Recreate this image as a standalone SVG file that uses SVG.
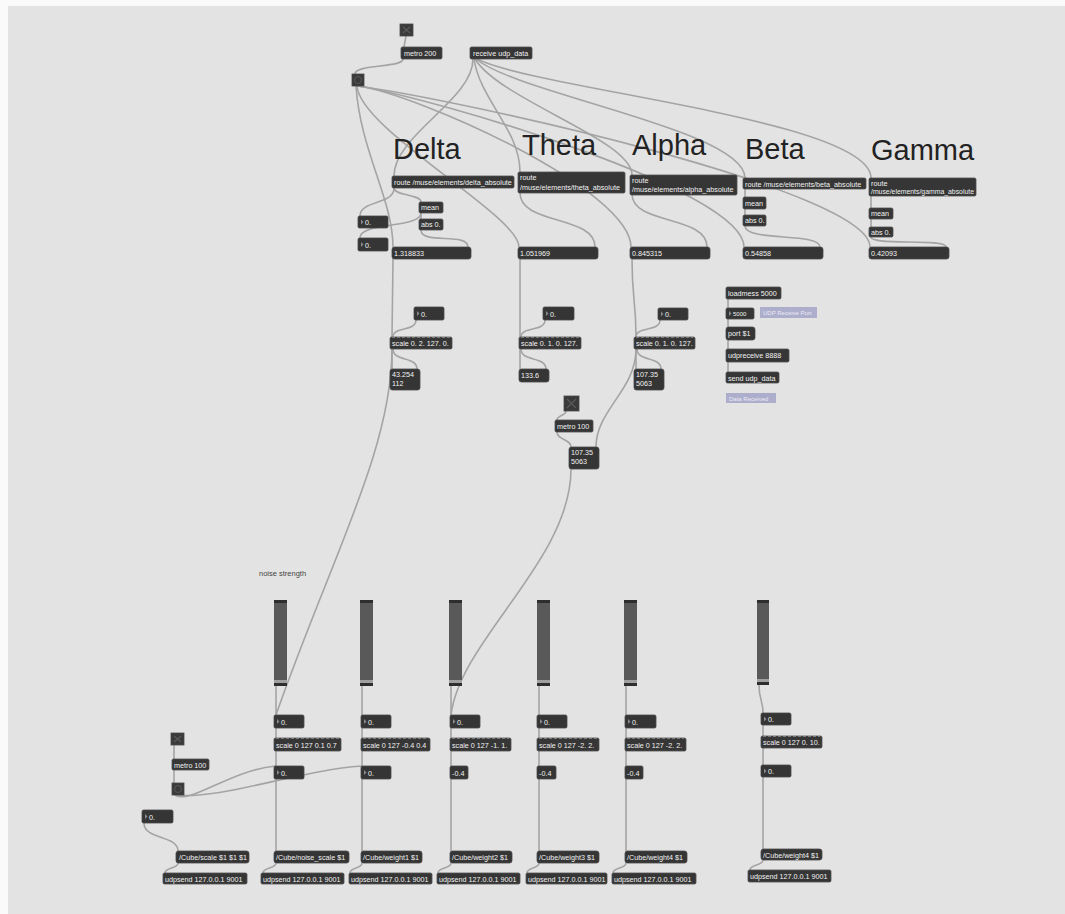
<svg xmlns="http://www.w3.org/2000/svg" width="1065" height="914" viewBox="0 0 1065 914">
<style>
.bg{fill:#e3e3e3}
.c{fill:none;stroke:#a4a4a4;stroke-width:1.6;stroke-linecap:round}
.o{fill:#363636;stroke:#505050;stroke-width:0.8}
.m{fill:#353535;stroke:#4a4a4a;stroke-width:0.8}
.n{fill:#353535;stroke:#4a4a4a;stroke-width:0.8}
.t{font-family:"Liberation Sans",Arial,sans-serif;font-size:7.2px;fill:#f2f2f2}
.big{font-family:"Liberation Sans",Arial,sans-serif;font-size:29px;fill:#222}
.cm{font-family:"Liberation Sans",Arial,sans-serif;font-size:7.5px;fill:#444}
.lav{fill:#adadcc}
.lt{font-family:"Liberation Sans",Arial,sans-serif;font-size:6px;fill:#ececf6}
.tri{fill:#8a8a8a}
.tg{fill:#3a3a3a;stroke:#4a4a4a;stroke-width:0.8}
.x{stroke:#5a5a5a;stroke-width:1.2}
.sl{fill:#595959}
.sd{fill:#2e2e2e}
.sh{fill:#a0a0a0}
.dash{stroke:#7a7a7a;stroke-width:1;stroke-dasharray:3 2}
</style>
<defs>
<g id="tri"><polygon class="tri" points="0,-2.5 2.5,0 0,2.5"/></g>
</defs>
<rect x="0" y="0" width="1065" height="914" fill="#fafafa"/>
<rect class="bg" x="8" y="6" width="1057" height="908"/>

<g id="connectors">
<path class="c" d="M406 36 L404 47"/>
<path class="c" d="M403 59 C403 68 355 64 355 74"/>
<path class="c" d="M473 59 C473 100 394 135 394 176"/>
<path class="c" d="M474 59 C480 100 520 130 520 172"/>
<path class="c" d="M475 59 C500 100 632 140 632 175"/>
<path class="c" d="M476 59 C520 95 745 130 745 178"/>
<path class="c" d="M477 59 C540 90 871 120 871 178"/>
<path class="c" d="M356 86 C360 150 393 200 393 247"/>
<path class="c" d="M357 86 C360 130 519 215 519 247"/>
<path class="c" d="M358 86 C420 95 631 190 631 247"/>
<path class="c" d="M358 86 C440 100 744 190 744 247"/>
<path class="c" d="M358 86 C460 100 870 190 870 247"/>
<path class="c" d="M394 188 C394 196 421 194 421 202"/>
<path class="c" d="M394 188 C394 205 360 200 360 216"/>
<path class="c" d="M421 213 L421 219"/>
<path class="c" d="M421 213 C421 228 360 222 360 238"/>
<path class="c" d="M421 230 C421 245 468 232 468 247"/>
<path class="c" d="M393 259 L392 337"/>
<path class="c" d="M416 320 C416 332 393 326 393 337"/>
<path class="c" d="M392 349 L392 369"/>
<path class="c" d="M393 349 C393 362 417 356 417 369"/>
<path class="c" d="M392 349 C392 450 330 560 276 715"/>
<path class="c" d="M520 193 C520 225 595 215 595 247"/>
<path class="c" d="M520 259 L520 337"/>
<path class="c" d="M545 320 C545 332 521 326 521 337"/>
<path class="c" d="M520 349 L520 369"/>
<path class="c" d="M521 349 C521 362 546 356 546 369"/>
<path class="c" d="M632 194 C632 225 707 215 707 247"/>
<path class="c" d="M632 259 C632 300 636 300 636 337"/>
<path class="c" d="M660 320 C660 332 636 326 636 337"/>
<path class="c" d="M636 349 L636 369"/>
<path class="c" d="M637 349 C637 362 661 356 661 369"/>
<path class="c" d="M636 349 C636 390 596 410 596 447"/>
<path class="c" d="M566 411 C566 416 557 415 557 420"/>
<path class="c" d="M557 432 C557 440 571 439 571 447"/>
<path class="c" d="M571 469 C571 560 460 640 451 715"/>
<path class="c" d="M745 189 L745 197"/>
<path class="c" d="M745 209 L745 215"/>
<path class="c" d="M745 226 C745 242 820 232 820 247"/>
<path class="c" d="M871 196 L871 208"/>
<path class="c" d="M871 219 L871 227"/>
<path class="c" d="M871 237 C871 246 946 238 946 247"/>
<path class="c" d="M728 299 L728 308"/>
<path class="c" d="M728 319 L728 327"/>
<path class="c" d="M728 340 L728 349"/>
<path class="c" d="M728 362 L728 372"/>
<path class="c" d="M174 745 L174 759"/>
<path class="c" d="M174 770 L174 783"/>
<path class="c" d="M175 795 C190 805 230 770 276 766"/>
<path class="c" d="M176 795 C220 800 300 770 362 766"/>
<path class="c" d="M144 823 C144 840 178 835 178 851"/>
<path class="c" d="M178 863 C178 869 165 867 165 873"/>
<path class="c" d="M276 686 L276 715"/>
<path class="c" d="M276 728 L276 738"/>
<path class="c" d="M276 751 L276 766"/>
<path class="c" d="M276 779 L276 851"/>
<path class="c" d="M276 863 C276 869 263 867 263 873"/>
<path class="c" d="M362 686 L362 715"/>
<path class="c" d="M362 728 L362 738"/>
<path class="c" d="M362 751 L362 766"/>
<path class="c" d="M362 779 L362 851"/>
<path class="c" d="M362 863 C362 869 350 867 350 873"/>
<path class="c" d="M451 686 L451 715"/>
<path class="c" d="M451 728 L451 738"/>
<path class="c" d="M451 751 L451 766"/>
<path class="c" d="M451 779 L451 851"/>
<path class="c" d="M451 863 C451 869 438 867 438 873"/>
<path class="c" d="M539 686 L539 715"/>
<path class="c" d="M539 728 L539 738"/>
<path class="c" d="M539 751 L539 766"/>
<path class="c" d="M539 779 L539 851"/>
<path class="c" d="M539 863 C539 869 527 867 527 873"/>
<path class="c" d="M626 686 L626 715"/>
<path class="c" d="M626 728 L626 738"/>
<path class="c" d="M626 751 L626 766"/>
<path class="c" d="M626 779 L626 851"/>
<path class="c" d="M626 863 C626 869 613 867 613 873"/>
<path class="c" d="M759 685 C759 700 763 700 763 713"/>
<path class="c" d="M763 725 L763 736"/>
<path class="c" d="M763 748 L763 765"/>
<path class="c" d="M763 777 L763 849"/>
<path class="c" d="M763 860 C763 866 750 864 750 870"/>
</g>

<g id="labels">
<text class="big" x="393" y="159">Delta</text>
<text class="big" x="522" y="155">Theta</text>
<text class="big" x="632" y="155">Alpha</text>
<text class="big" x="745" y="159">Beta</text>
<text class="big" x="871" y="160">Gamma</text>
<text class="cm" x="259" y="576">noise strength</text>
</g>

<g id="toggle-top"><rect class="tg" x="400" y="24" width="13" height="12"/><path class="x" d="M403 27 L410 33 M410 27 L403 33"/></g>
<g id="metro200"><rect class="o" x="401" y="47" width="41" height="12" rx="1.5"/><text class="t" x="404" y="56">metro 200</text></g>
<g id="receive"><rect class="o" x="470" y="47" width="62" height="12" rx="1.5"/><text class="t" x="473" y="56">receive udp_data</text></g>
<g id="bang-top"><rect class="tg" x="352" y="74" width="12" height="12"/><circle cx="358" cy="80" r="3.5" fill="none" stroke="#5a5a5a" stroke-width="1"/></g>

<g id="route-delta"><rect class="o" x="392" y="176" width="122" height="12" rx="1.5"/><text class="t" x="394" y="185">route /muse/elements/delta_absolute</text></g>
<g id="route-theta"><rect class="o" x="518" y="172" width="107" height="21" rx="1.5"/><text class="t" x="520" y="180">route</text><text class="t" x="520" y="190">/muse/elements/theta_absolute</text></g>
<g id="route-alpha"><rect class="o" x="630" y="175" width="107" height="20" rx="1.5"/><text class="t" x="632" y="183">route</text><text class="t" x="632" y="192">/muse/elements/alpha_absolute</text></g>
<g id="route-beta"><rect class="o" x="743" y="178" width="123" height="11" rx="1.5"/><text class="t" x="745" y="186.5">route /muse/elements/beta_absolute</text></g>
<g id="route-gamma"><rect class="o" x="869" y="178" width="107" height="18" rx="1.5"/><text class="t" x="871" y="185.5">route</text><text class="t" x="871" y="194" textLength="103" lengthAdjust="spacingAndGlyphs">/muse/elements/gamma_absolute</text></g>

<g id="mean-delta"><rect class="o" x="419" y="202" width="24" height="11" rx="1.5"/><text class="t" x="421" y="210">mean</text></g>
<g id="abs-delta"><rect class="o" x="419" y="219" width="24" height="11" rx="1.5"/><text class="t" x="421" y="227">abs 0.</text></g>
<g id="num-d1"><rect class="n" x="358" y="216" width="30" height="12" rx="1.5"/><use href="#tri" x="361" y="222"/><text class="t" x="365" y="225">0.</text></g>
<g id="num-d2"><rect class="n" x="358" y="238" width="30" height="13" rx="1.5"/><use href="#tri" x="361" y="244.5"/><text class="t" x="365" y="247.5">0.</text></g>
<g id="mean-beta"><rect class="o" x="743" y="197" width="23" height="12" rx="1.5"/><text class="t" x="745" y="205.5">mean</text></g>
<g id="abs-beta"><rect class="o" x="743" y="215" width="23" height="11" rx="1.5"/><text class="t" x="745" y="223">abs 0.</text></g>
<g id="mean-gamma"><rect class="o" x="869" y="208" width="24" height="11" rx="1.5"/><text class="t" x="871" y="216">mean</text></g>
<g id="abs-gamma"><rect class="o" x="869" y="227" width="24" height="10" rx="1.5"/><text class="t" x="871" y="234.5">abs 0.</text></g>

<g id="disp-delta"><rect class="m" x="392" y="247" width="79" height="12" rx="2.5"/><text class="t" x="394" y="256">1.318833</text></g>
<g id="disp-theta"><rect class="m" x="518" y="247" width="80" height="12" rx="2.5"/><text class="t" x="520" y="256">1.051969</text></g>
<g id="disp-alpha"><rect class="m" x="630" y="247" width="80" height="12" rx="2.5"/><text class="t" x="632" y="256">0.845315</text></g>
<g id="disp-beta"><rect class="m" x="743" y="247" width="80" height="12" rx="2.5"/><text class="t" x="745" y="256">0.54858</text></g>
<g id="disp-gamma"><rect class="m" x="869" y="247" width="80" height="12" rx="2.5"/><text class="t" x="871" y="256">0.42093</text></g>

<g id="num-ds"><rect class="n" x="414" y="307" width="30" height="13" rx="1.5"/><use href="#tri" x="417" y="313.5"/><text class="t" x="421" y="316.5">0.</text></g>
<g id="scale-delta"><rect class="o" x="390" y="337" width="62" height="12" rx="1.5"/><line class="dash" x1="392" y1="337.5" x2="450" y2="337.5"/><text class="t" x="392" y="346">scale 0. 2. 127. 0.</text></g>
<g id="msg-delta"><rect class="m" x="390" y="369" width="30" height="21" rx="2.5"/><text class="t" x="392" y="377">43.254</text><text class="t" x="392" y="386">112</text></g>
<g id="num-ts"><rect class="n" x="543" y="307" width="31" height="13" rx="1.5"/><use href="#tri" x="546" y="313.5"/><text class="t" x="550" y="316.5">0.</text></g>
<g id="scale-theta"><rect class="o" x="519" y="337" width="62" height="12" rx="1.5"/><line class="dash" x1="521" y1="337.5" x2="579" y2="337.5"/><text class="t" x="521" y="346">scale 0. 1. 0. 127.</text></g>
<g id="msg-theta"><rect class="m" x="519" y="369" width="30" height="13" rx="2.5"/><text class="t" x="521" y="378">133.6</text></g>
<g id="num-as"><rect class="n" x="658" y="308" width="30" height="12" rx="1.5"/><use href="#tri" x="661" y="314"/><text class="t" x="665" y="317">0.</text></g>
<g id="scale-alpha"><rect class="o" x="634" y="337" width="61" height="12" rx="1.5"/><line class="dash" x1="636" y1="337.5" x2="693" y2="337.5"/><text class="t" x="636" y="346">scale 0. 1. 0. 127.</text></g>
<g id="msg-alpha"><rect class="m" x="634" y="369" width="30" height="21" rx="2.5"/><text class="t" x="636" y="377">107.35</text><text class="t" x="636" y="386">5063</text></g>
<g id="toggle-mid"><rect class="tg" x="564" y="396" width="15" height="15"/><path class="x" d="M567 399 L576 408 M576 399 L567 408"/></g>
<g id="metro100-mid"><rect class="o" x="555" y="420" width="38" height="12" rx="1.5"/><text class="t" x="557" y="429">metro 100</text></g>
<g id="msg-alpha2"><rect class="m" x="569" y="447" width="30" height="22" rx="2.5"/><text class="t" x="571" y="455">107.35</text><text class="t" x="571" y="464">5063</text></g>

<g id="loadmess"><rect class="o" x="726" y="287" width="55" height="12" rx="1.5"/><text class="t" x="728" y="296">loadmess 5000</text></g>
<g id="num-port"><rect class="n" x="726" y="308" width="28" height="11" rx="1.5"/><use href="#tri" x="729" y="313.5"/><text class="t" x="733" y="316" style="font-size:6px">5000</text></g>
<g id="cm-port"><rect class="lav" x="760" y="307" width="57" height="11"/><text class="lt" x="763" y="314.8">UDP Receive Port</text></g>
<g id="port"><rect class="m" x="726" y="327" width="29" height="13" rx="2.5"/><text class="t" x="728" y="336">port $1</text></g>
<g id="udpreceive"><rect class="o" x="726" y="349" width="63" height="13" rx="1.5"/><text class="t" x="728" y="358">udpreceive 8888</text></g>
<g id="send"><rect class="o" x="726" y="372" width="53" height="11" rx="1.5"/><text class="t" x="728" y="380.5">send udp_data</text></g>
<g id="cm-data"><rect class="lav" x="726" y="393" width="50" height="10"/><text class="lt" x="729" y="400.5">Data Received</text></g>

<g id="slider1"><rect class="sl" x="274" y="600" width="13" height="86"/><rect class="sd" x="274" y="600" width="13" height="3"/><rect class="sh" x="274" y="680" width="13" height="3"/><rect class="sd" x="274" y="683" width="13" height="3"/></g>
<g id="slider2"><rect class="sl" x="360" y="600" width="13" height="86"/><rect class="sd" x="360" y="600" width="13" height="3"/><rect class="sh" x="360" y="680" width="13" height="3"/><rect class="sd" x="360" y="683" width="13" height="3"/></g>
<g id="slider3"><rect class="sl" x="449" y="600" width="13" height="86"/><rect class="sd" x="449" y="600" width="13" height="3"/><rect class="sh" x="449" y="680" width="13" height="3"/><rect class="sd" x="449" y="683" width="13" height="3"/></g>
<g id="slider4"><rect class="sl" x="537" y="600" width="13" height="86"/><rect class="sd" x="537" y="600" width="13" height="3"/><rect class="sh" x="537" y="680" width="13" height="3"/><rect class="sd" x="537" y="683" width="13" height="3"/></g>
<g id="slider5"><rect class="sl" x="624" y="600" width="13" height="86"/><rect class="sd" x="624" y="600" width="13" height="3"/><rect class="sh" x="624" y="680" width="13" height="3"/><rect class="sd" x="624" y="683" width="13" height="3"/></g>
<g id="slider6"><rect class="sl" x="757" y="600" width="12" height="85"/><rect class="sd" x="757" y="600" width="12" height="3"/><rect class="sh" x="757" y="679" width="12" height="3"/><rect class="sd" x="757" y="682" width="12" height="3"/></g>

<g id="toggle-bot"><rect class="tg" x="171" y="733" width="13" height="12"/><path class="x" d="M174 736 L181 742 M181 736 L174 742"/></g>
<g id="metro100-bot"><rect class="o" x="172" y="759" width="37" height="11" rx="1.5"/><text class="t" x="174" y="767.5">metro 100</text></g>
<g id="bang-bot"><rect class="tg" x="172" y="783" width="12" height="12"/><circle cx="178" cy="789" r="3.5" fill="none" stroke="#5a5a5a" stroke-width="1"/></g>
<g id="num-scale"><rect class="n" x="142" y="810" width="31" height="13" rx="1.5"/><use href="#tri" x="145" y="816.5"/><text class="t" x="149" y="819.5">0.</text></g>
<g id="msg-cubescale"><rect class="m" x="176" y="851" width="73" height="12" rx="2.5"/><text class="t" x="179" y="860">/Cube/scale $1 $1 $1</text></g>
<g id="udp0"><rect class="o" x="163" y="873" width="84" height="11" rx="1.5"/><text class="t" x="165" y="881.5">udpsend 127.0.0.1 9001</text></g>

<g id="col1">
<rect class="n" x="274" y="715" width="30" height="13" rx="1.5"/><use href="#tri" x="277" y="721.5"/><text class="t" x="281" y="724.5">0.</text>
<rect class="o" x="274" y="738" width="67" height="13" rx="1.5"/><line class="dash" x1="276" y1="738.5" x2="339" y2="738.5"/><text class="t" x="276" y="747.5">scale 0 127 0.1 0.7</text>
<rect class="n" x="274" y="766" width="30" height="13" rx="1.5"/><use href="#tri" x="277" y="772.5"/><text class="t" x="281" y="775.5">0.</text>
<rect class="m" x="274" y="851" width="75" height="12" rx="2.5"/><text class="t" x="276" y="860">/Cube/noise_scale $1</text>
<rect class="o" x="261" y="873" width="83" height="11" rx="1.5"/><text class="t" x="263" y="881.5">udpsend 127.0.0.1 9001</text>
</g>
<g id="col2">
<rect class="n" x="361" y="715" width="30" height="13" rx="1.5"/><use href="#tri" x="364" y="721.5"/><text class="t" x="368" y="724.5">0.</text>
<rect class="o" x="361" y="738" width="69" height="13" rx="1.5"/><line class="dash" x1="363" y1="738.5" x2="428" y2="738.5"/><text class="t" x="363" y="747.5">scale 0 127 -0.4 0.4</text>
<rect class="n" x="361" y="766" width="30" height="13" rx="1.5"/><use href="#tri" x="364" y="772.5"/><text class="t" x="368" y="775.5">0.</text>
<rect class="m" x="361" y="851" width="61" height="12" rx="2.5"/><text class="t" x="363" y="860">/Cube/weight1 $1</text>
<rect class="o" x="349" y="873" width="83" height="11" rx="1.5"/><text class="t" x="351" y="881.5">udpsend 127.0.0.1 9001</text>
</g>
<g id="col3">
<rect class="n" x="450" y="715" width="30" height="13" rx="1.5"/><use href="#tri" x="453" y="721.5"/><text class="t" x="457" y="724.5">0.</text>
<rect class="o" x="450" y="738" width="61" height="13" rx="1.5"/><line class="dash" x1="452" y1="738.5" x2="509" y2="738.5"/><text class="t" x="452" y="747.5">scale 0 127 -1. 1.</text>
<rect class="n" x="450" y="766" width="18" height="13" rx="1.5"/><text class="t" x="452" y="775.5">-0.4</text>
<rect class="m" x="450" y="851" width="62" height="12" rx="2.5"/><text class="t" x="452" y="860">/Cube/weight2 $1</text>
<rect class="o" x="437" y="873" width="83" height="11" rx="1.5"/><text class="t" x="439" y="881.5">udpsend 127.0.0.1 9001</text>
</g>
<g id="col4">
<rect class="n" x="537" y="715" width="30" height="13" rx="1.5"/><use href="#tri" x="540" y="721.5"/><text class="t" x="544" y="724.5">0.</text>
<rect class="o" x="537" y="738" width="62" height="13" rx="1.5"/><line class="dash" x1="539" y1="738.5" x2="597" y2="738.5"/><text class="t" x="539" y="747.5">scale 0 127 -2. 2.</text>
<rect class="n" x="537" y="766" width="19" height="13" rx="1.5"/><text class="t" x="539" y="775.5">-0.4</text>
<rect class="m" x="537" y="851" width="62" height="12" rx="2.5"/><text class="t" x="539" y="860">/Cube/weight3 $1</text>
<rect class="o" x="526" y="873" width="81" height="11" rx="1.5"/><text class="t" x="528" y="881.5">udpsend 127.0.0.1 9001</text>
</g>
<g id="col5">
<rect class="n" x="625" y="715" width="31" height="13" rx="1.5"/><use href="#tri" x="628" y="721.5"/><text class="t" x="632" y="724.5">0.</text>
<rect class="o" x="625" y="738" width="61" height="13" rx="1.5"/><line class="dash" x1="627" y1="738.5" x2="684" y2="738.5"/><text class="t" x="627" y="747.5">scale 0 127 -2. 2.</text>
<rect class="n" x="625" y="766" width="18" height="13" rx="1.5"/><text class="t" x="627" y="775.5">-0.4</text>
<rect class="m" x="625" y="851" width="62" height="12" rx="2.5"/><text class="t" x="627" y="860">/Cube/weight4 $1</text>
<rect class="o" x="612" y="873" width="84" height="11" rx="1.5"/><text class="t" x="614" y="881.5">udpsend 127.0.0.1 9001</text>
</g>
<g id="col6">
<rect class="n" x="761" y="713" width="30" height="12" rx="1.5"/><use href="#tri" x="764" y="719"/><text class="t" x="768" y="722">0.</text>
<rect class="o" x="761" y="736" width="61" height="12" rx="1.5"/><line class="dash" x1="763" y1="736.5" x2="820" y2="736.5"/><text class="t" x="763" y="745">scale 0 127 0. 10.</text>
<rect class="n" x="761" y="765" width="30" height="12" rx="1.5"/><use href="#tri" x="764" y="771"/><text class="t" x="768" y="774">0.</text>
<rect class="m" x="761" y="849" width="61" height="11" rx="2.5"/><text class="t" x="763" y="857.5">/Cube/weight4 $1</text>
<rect class="o" x="748" y="870" width="83" height="12" rx="1.5"/><text class="t" x="750" y="879">udpsend 127.0.0.1 9001</text>
</g>
</svg>
